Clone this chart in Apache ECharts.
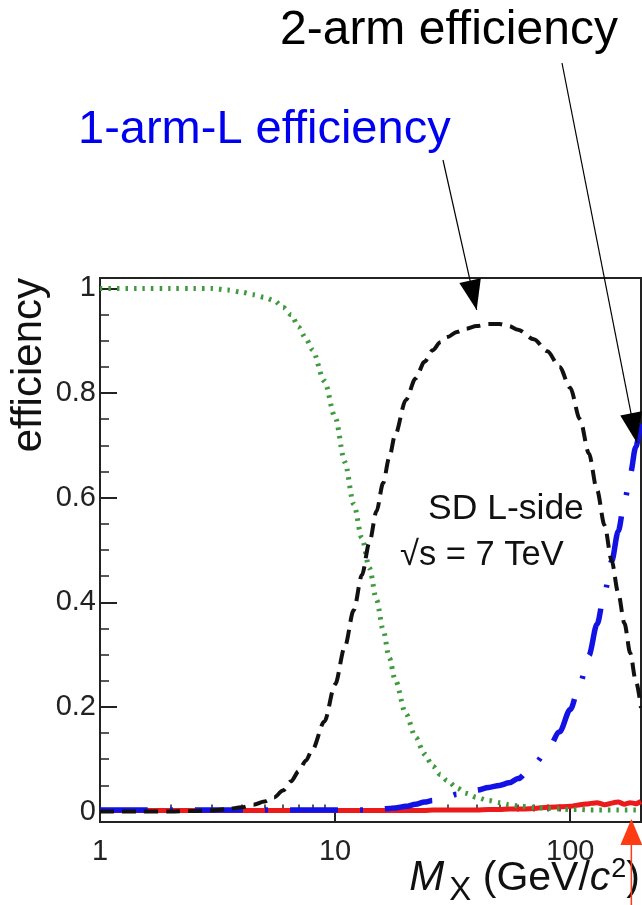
<!DOCTYPE html>
<html><head><meta charset="utf-8">
<script src="https://cdn.jsdelivr.net/npm/echarts@6/dist/echarts.min.js"></script>
<style>html,body{margin:0;padding:0;background:#fff}#c{width:642px;height:905px}</style>
</head><body><div id="c"></div>
<script>
// ---- data ----
const massX = [1, 1.5, 2, 2.5, 3, 3.5, 4, 4.5, 5, 5.5, 6, 6.5, 7, 7.5, 8, 9, 10, 11, 12, 13, 14, 15, 16, 17, 18, 20, 22, 24, 26, 28, 30, 33, 36, 40, 45, 50, 55, 60, 70, 80, 90, 100, 110, 120, 130, 140, 150, 160, 170, 180, 190, 200];
const zeroArmEff = [1.0, 1.0, 1.0, 1.0, 1.0, 0.997, 0.993, 0.988, 0.983, 0.977, 0.964, 0.95, 0.926, 0.905, 0.883, 0.823, 0.754, 0.668, 0.588, 0.523, 0.465, 0.405, 0.348, 0.294, 0.252, 0.187, 0.142, 0.11, 0.087, 0.071, 0.059, 0.045, 0.035, 0.027, 0.021, 0.017, 0.013, 0.011, 0.008, 0.006, 0.005, 0.004, 0.004, 0.003, 0.003, 0.003, 0.003, 0.003, 0.003, 0.003, 0.003, 0.003];
const oneArmLEff = [0, 0, 0, 0.001, 0.002, 0.005, 0.008, 0.013, 0.019, 0.027, 0.04, 0.058, 0.077, 0.097, 0.118, 0.172, 0.243, 0.315, 0.385, 0.452, 0.515, 0.574, 0.628, 0.677, 0.72, 0.787, 0.828, 0.86, 0.882, 0.897, 0.907, 0.917, 0.923, 0.928, 0.932, 0.932, 0.928, 0.921, 0.903, 0.88, 0.85, 0.81, 0.75, 0.685, 0.615, 0.547, 0.48, 0.418, 0.36, 0.303, 0.25, 0.198];
const twoArmEff = [0.003, 0.003, 0.003, 0.003, 0.003, 0.003, 0.003, 0.003, 0.003, 0.003, 0.003, 0.003, 0.003, 0.003, 0.003, 0.003, 0.003, 0.003, 0.003, 0.003, 0.003, 0.004, 0.005, 0.006, 0.007, 0.01, 0.014, 0.018, 0.021, 0.025, 0.028, 0.033, 0.037, 0.041, 0.046, 0.05, 0.055, 0.063, 0.09, 0.117, 0.152, 0.195, 0.245, 0.298, 0.358, 0.418, 0.478, 0.536, 0.591, 0.645, 0.697, 0.748];
const oneArmREff = [0.002, 0.002, 0.002, 0.002, 0.002, 0.002, 0.002, 0.002, 0.002, 0.002, 0.002, 0.002, 0.002, 0.002, 0.002, 0.002, 0.002, 0.002, 0.002, 0.002, 0.002, 0.002, 0.002, 0.002, 0.002, 0.002, 0.002, 0.002, 0.003, 0.003, 0.003, 0.003, 0.003, 0.003, 0.004, 0.004, 0.005, 0.005, 0.006, 0.008, 0.009, 0.01, 0.013, 0.015, 0.017, 0.013, 0.016, 0.018, 0.014, 0.017, 0.015, 0.019];
const yTickValues = [0, 0.2, 0.4, 0.6, 0.8, 1];
const yMinorTickValues = [0.05, 0.1, 0.15, 0.25, 0.3, 0.35, 0.45, 0.5, 0.55, 0.65, 0.7, 0.75, 0.85, 0.9, 0.95];
const xTickValues = [1, 10, 100];
const xMinorTickValues = [2, 3, 4, 5, 6, 7, 8, 9, 20, 30, 40, 50, 60, 70, 80, 90, 200];
const thresholdMass = 182;            // red arrow below the axis
const oneArmLArrowTip = [40, 0.959];   // where "1-arm-L efficiency" arrow points
const twoArmArrowTip = [192, 0.705];   // where "2-arm efficiency" arrow points

const FONT = 'Liberation Sans, Arial, sans-serif';
const AX = '#222';
function pairs(ys) { return massX.map((x, i) => [x, ys[i]]); }

const chart = echarts.init(document.getElementById('c'), null, {renderer: 'canvas'});
const option = {
  animation: false,
  backgroundColor: '#fff',
  grid: {left: 100, top: 278, width: 541, height: 544, containLabel: false, outerBoundsMode: 'none',
         show: true, borderColor: AX, borderWidth: 2, backgroundColor: 'transparent'},
  xAxis: [
    {
      type: 'log', logBase: 10, min: 1, max: 200, position: 'bottom',
      axisLine: {show: true, onZero: false, lineStyle: {color: AX, width: 2}},
      axisTick: {show: true, inside: true, length: 14, customValues: xTickValues, lineStyle: {color: AX, width: 2}},
      axisLabel: {show: true, customValues: xTickValues, margin: 15, color: AX, fontSize: 29, fontFamily: FONT},
      minorTick: {show: false}, splitLine: {show: false},
      name: '{m|M}{sub|X} (GeV/{c|c}{sup|2})',
      nameLocation: 'end', nameGap: -1, nameMoveOverlap: false,
      nameTextStyle: {
        fontFamily: FONT, fontSize: 41, color: '#111', align: 'right', verticalAlign: 'top', padding: [28, 0, 0, 0],
        rich: {
          m: {fontFamily: FONT, fontSize: 42, fontStyle: 'italic', color: '#111'},
          sub: {fontFamily: FONT, fontSize: 33, color: '#111', padding: [24, 0, 0, 5]},
          c: {fontFamily: FONT, fontSize: 41, fontStyle: 'italic', color: '#111'},
          sup: {fontFamily: FONT, fontSize: 27, color: '#111', padding: [0, 0, 18, 1]}
        }
      }
    },
    {
      type: 'log', logBase: 10, min: 1, max: 200, position: 'bottom',
      axisLine: {show: false},
      axisTick: {show: true, inside: true, length: 7, customValues: xMinorTickValues, lineStyle: {color: AX, width: 1.5}},
      axisLabel: {show: false}, splitLine: {show: false}, minorTick: {show: false}
    }
  ],
  yAxis: [
    {
      type: 'value', min: -0.02, max: 1.02, position: 'left',
      axisLine: {show: true, onZero: false, lineStyle: {color: AX, width: 2}},
      axisTick: {show: true, inside: true, length: 17, customValues: yTickValues, lineStyle: {color: AX, width: 2}},
      axisLabel: {show: true, customValues: yTickValues, margin: 4, color: AX, fontSize: 29, fontFamily: FONT},
      splitLine: {show: false}, minorTick: {show: false},
      name: 'efficiency', nameLocation: 'end', nameRotate: 90, nameGap: 0, nameMoveOverlap: false,
      nameTextStyle: {fontFamily: FONT, fontSize: 42, color: '#111', align: 'right', verticalAlign: 'bottom', padding: [0, 0, 50, 0]}
    },
    {
      type: 'value', min: -0.02, max: 1.02, position: 'left', offset: 0,
      axisLine: {show: false},
      axisTick: {show: true, inside: true, length: 9, customValues: yMinorTickValues, lineStyle: {color: AX, width: 1.5}},
      axisLabel: {show: false}, splitLine: {show: false}, minorTick: {show: false}
    }
  ],
  series: [
    {name: '1-arm-R efficiency', type: 'line', data: pairs(oneArmREff), symbol: 'none', smooth: 0.2,
     lineStyle: {color: '#ec1a1a', width: 5}},
    {name: '0-arm efficiency', type: 'line', data: pairs(zeroArmEff), symbol: 'none', smooth: 0.3, smoothMonotone: 'x',
     lineStyle: {color: '#3f9a3f', width: 5, type: [2.5, 6]}},
    {name: '2-arm efficiency', type: 'line', data: pairs(twoArmEff), symbol: 'none', smooth: 0.3, smoothMonotone: 'x',
     lineStyle: {color: '#1212e6', width: 5.5, type: [48, 22, 3, 22]}},
    {name: '1-arm-L efficiency', type: 'line', data: pairs(oneArmLEff), symbol: 'none', smooth: 0.3, smoothMonotone: 'x',
     lineStyle: {color: '#111', width: 4, type: [14, 8]}}
  ]
};
chart.setOption(option);

function arrowHead(sx, sy, tx, ty, L, w) {
  const dx = tx - sx, dy = ty - sy, d = Math.hypot(dx, dy);
  const ux = dx / d, uy = dy / d, bx = tx - ux * L, by = ty - uy * L;
  return [[tx, ty], [bx - uy * w, by + ux * w], [bx + uy * w, by - ux * w]];
}
const tip1 = chart.convertToPixel({gridIndex: 0}, oneArmLArrowTip);
const tip2 = chart.convertToPixel({gridIndex: 0}, twoArmArrowTip);
const thrX = chart.convertToPixel({gridIndex: 0}, [thresholdMass, 0])[0];
const s1 = [443, 160], s2 = [562, 63];
function txt(text, x, y, size, color, align) {
  return {type: 'text', z: 100, style: {text: text, x: x, y: y, font: 'normal ' + size + 'px ' + FONT, fontSize: size, fontFamily: FONT, fill: color,
    align: align || 'left', verticalAlign: 'middle', textAlign: align || 'left', textVerticalAlign: 'middle'}};
}
chart.setOption({
  graphic: [
    txt('2-arm efficiency', 280, 31, 48, '#000'),
    txt('1-arm-L efficiency', 78, 130, 47, '#0000f0'),
    txt('SD L-side', 428, 509, 35.5, '#111'),
    txt('\u221As = 7 TeV', 400, 555, 34.5, '#111'),
    {type: 'line', z: 100, shape: {x1: s1[0], y1: s1[1], x2: tip1[0], y2: tip1[1]}, style: {stroke: '#000', lineWidth: 1.2}},
    {type: 'polygon', z: 100, shape: {points: arrowHead(s1[0], s1[1], tip1[0], tip1[1], 30, 11)}, style: {fill: '#000'}},
    {type: 'line', z: 100, shape: {x1: s2[0], y1: s2[1], x2: tip2[0], y2: tip2[1]}, style: {stroke: '#000', lineWidth: 1.2}},
    {type: 'polygon', z: 100, shape: {points: arrowHead(s2[0], s2[1], tip2[0], tip2[1], 30, 11)}, style: {fill: '#000'}},
    {type: 'line', z: 100, shape: {x1: thrX, y1: 845, x2: thrX, y2: 905}, style: {stroke: '#ff3b14', lineWidth: 1.5}},
    {type: 'polygon', z: 100, shape: {points: [[thrX, 819], [thrX - 11, 845], [thrX + 11, 845]]}, style: {fill: '#ff3b14'}}
  ]
});
</script>
</body></html>
